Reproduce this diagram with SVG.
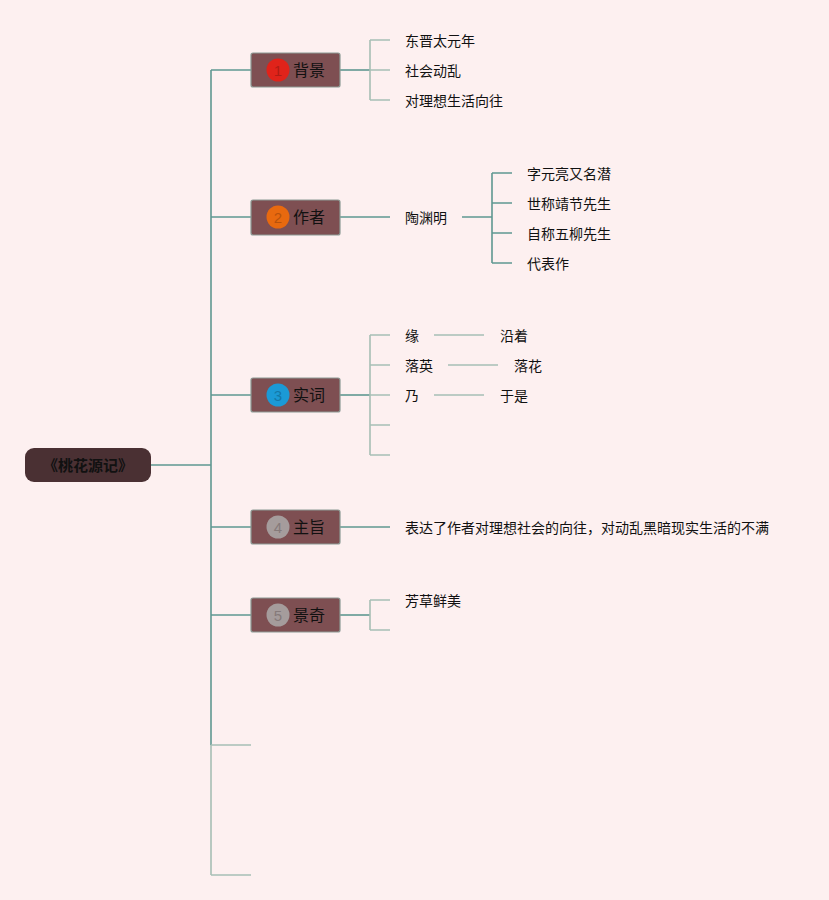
<svg xmlns="http://www.w3.org/2000/svg" width="829" height="900" viewBox="0 0 829 900">
<style>
.bg{fill:#fdf0f0}
.c1{stroke:#5f9891;stroke-width:1.6;fill:none}
.c2{stroke:#a7bfb5;stroke-width:1.6;fill:none}
.main rect{fill:#7e4f52;stroke:#8c9a94;stroke-width:1.2}
.lbl{font-family:"Noto Sans CJK SC","Noto Sans",sans-serif;font-size:16px;fill:#111}
.num{font-family:"Liberation Sans",sans-serif;font-size:15px;text-anchor:middle}
.t{font-family:"Noto Sans CJK SC","Noto Sans",sans-serif;font-size:14px;fill:#111}
</style>
<rect class="bg" x="0" y="0" width="829" height="900"/>
<g id="connectors">
<path class="c1" d="M151 465H211M211 70V745M211 70H251M211 217H251M211 395H251M211 527H251M211 615H251"/>
<path class="c2" d="M211 745V875M211 745H251M211 875H251"/>
<path class="c1" d="M340 70H370"/>
<path class="c2" d="M370 40V100M370 40H390M370 70H390M370 100H390"/>
<path class="c1" d="M340 217H390M462 217H492"/>
<path class="c1" d="M492 173V263M492 173H512M492 203H512M492 233H512M492 263H512"/>
<path class="c1" d="M340 395H370"/>
<path class="c2" d="M370 335V455M370 335H390M370 365H390M370 395H390M370 425H390M370 455H390"/>
<path class="c2" d="M434 335H484M448 365H498M434 395H484"/>
<path class="c1" d="M340 527H390"/>
<path class="c1" d="M340 615H370"/>
<path class="c2" d="M370 600V630M370 600H390M370 630H390"/>
</g>
<g id="root">
<rect x="25" y="448" width="126" height="34" rx="9" fill="#4a3033"/>
<text x="88" y="470.5" text-anchor="middle" font-family="Noto Sans CJK SC,sans-serif" font-size="15" font-weight="bold" fill="#111">《桃花源记》</text>
</g>
<g id="n1" class="main">
<rect x="251" y="53" width="89" height="34" rx="2"/>
<circle cx="278" cy="70" r="11.5" fill="#e0231a"/>
<text class="num" x="278" y="75.5" fill="#b01c14">1</text>
<text class="lbl" x="293" y="76">背景</text>
</g>
<g id="n2" class="main">
<rect x="251" y="200" width="89" height="35" rx="2"/>
<circle cx="278" cy="217" r="11.5" fill="#e8690f"/>
<text class="num" x="278" y="222.5" fill="#b8520c">2</text>
<text class="lbl" x="293" y="223">作者</text>
</g>
<g id="n3" class="main">
<rect x="251" y="378" width="89" height="34" rx="2"/>
<circle cx="278" cy="395" r="11.5" fill="#1b9ad6"/>
<text class="num" x="278" y="400.5" fill="#1478a8">3</text>
<text class="lbl" x="293" y="401">实词</text>
</g>
<g id="n4" class="main">
<rect x="251" y="510" width="89" height="34" rx="2"/>
<circle cx="278" cy="527" r="11.5" fill="#a59c9c"/>
<text class="num" x="278" y="532.5" fill="#857a7a">4</text>
<text class="lbl" x="293" y="533">主旨</text>
</g>
<g id="n5" class="main">
<rect x="251" y="598" width="89" height="34" rx="2"/>
<circle cx="278" cy="615" r="11.5" fill="#a59c9c"/>
<text class="num" x="278" y="620.5" fill="#857a7a">5</text>
<text class="lbl" x="293" y="621">景奇</text>
</g>
<g id="leaves">
<text class="t" x="405" y="46">东晋太元年</text>
<text class="t" x="405" y="76">社会动乱</text>
<text class="t" x="405" y="106">对理想生活向往</text>
<text class="t" x="405" y="223">陶渊明</text>
<text class="t" x="527" y="179">字元亮又名潜</text>
<text class="t" x="527" y="209">世称靖节先生</text>
<text class="t" x="527" y="239">自称五柳先生</text>
<text class="t" x="527" y="269">代表作</text>
<text class="t" x="405" y="341">缘</text>
<text class="t" x="500" y="341">沿着</text>
<text class="t" x="405" y="371">落英</text>
<text class="t" x="514" y="371">落花</text>
<text class="t" x="405" y="401">乃</text>
<text class="t" x="500" y="401">于是</text>
<text class="t" x="405" y="533">表达了作者对理想社会的向往，对动乱黑暗现实生活的不满</text>
<text class="t" x="405" y="606">芳草鲜美</text>
</g>
</svg>
